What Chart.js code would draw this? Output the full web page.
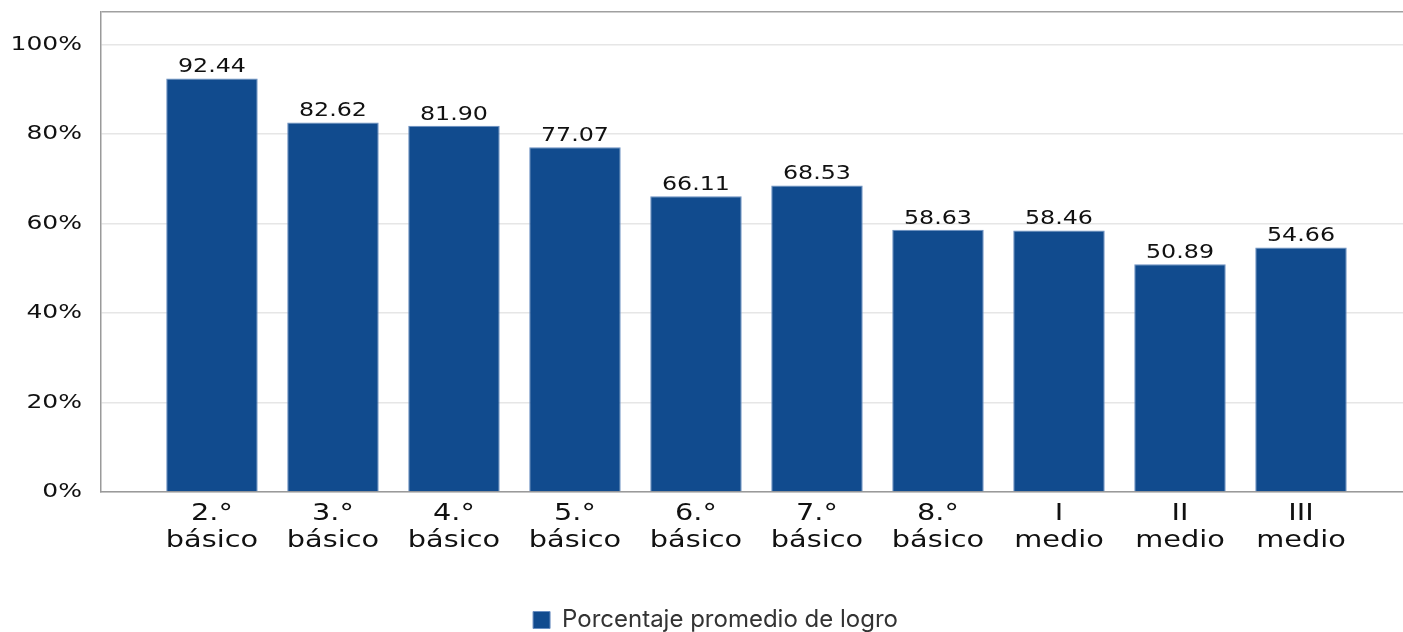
<!DOCTYPE html>
<html>
<head>
<meta charset="utf-8">
<script src="https://cdn.jsdelivr.net/npm/chart.js@4.4.0/dist/chart.umd.min.js"></script>
<style>
  html, body { margin: 0; padding: 0; background: #fff; overflow: hidden; }
  #wrap { width: 1403px; height: 632px; overflow: hidden; }
</style>
</head>
<body>
<div id="wrap"><canvas id="logroChart" width="1403" height="642"></canvas></div>
<script>
// data
const grades = [
  ['2.°', 'básico'], ['3.°', 'básico'], ['4.°', 'básico'], ['5.°', 'básico'],
  ['6.°', 'básico'], ['7.°', 'básico'], ['8.°', 'básico'],
  ['I', 'medio'], ['II', 'medio'], ['III', 'medio']
];
const logro = [92.44, 82.62, 81.90, 77.07, 66.11, 68.53, 58.63, 58.46, 50.89, 54.66];
const yTicks = [0, 20, 40, 60, 80, 100];
const yTop = 107.3;
const seriesName = 'Porcentaje promedio de logro';

const canvas = document.getElementById('logroChart');
const ctx = canvas.getContext('2d');

// the reference uses a wide face for the chart texts: stretch DejaVu text horizontally
const baseFill = ctx.fillText;
ctx.fillText = function (text, x, y, maxWidth) {
  if (this.font.indexOf('DejaVu') < 0) return baseFill.call(this, text, x, y, maxWidth);
  this.save();
  this.translate(x, y);
  this.scale(1.25, 1);
  baseFill.call(this, text, 0, 0);
  this.restore();
};

// value on top of each bar
const valueLabels = {
  id: 'valueLabels',
  afterDatasetsDraw(chart) {
    const c = chart.ctx;
    const meta = chart.getDatasetMeta(0);
    c.save();
    c.font = '19px "DejaVu Sans"';
    c.fillStyle = '#111';
    c.textAlign = 'center';
    c.textBaseline = 'alphabetic';
    meta.data.forEach((bar, i) => {
      c.fillText(logro[i].toFixed(2), bar.x, bar.y - 6);
    });
    c.restore();
  }
};

// legend in the reference sits a bit right of the canvas centre
const legendNudge = {
  id: 'legendNudge',
  afterLayout(chart) {
    chart.legend.left += 14;
    chart.legend.right += 14;
  }
};

const chart = new Chart(ctx, {
  type: 'bar',
  data: {
    datasets: [{
      label: seriesName,
      data: logro.map((v, i) => ({ x: i, y: v })),
      backgroundColor: '#114b8e',
      borderColor: '#6a8fc2',
      borderWidth: 1,
      categoryPercentage: 1,
      barPercentage: 0.756
    }]
  },
  options: {
    responsive: false,
    animation: false,
    layout: { padding: { top: 12, right: 0, left: 0, bottom: 0 } },
    plugins: {
      tooltip: { enabled: false },
      legend: {
        position: 'bottom',
        labels: {
          font: { family: 'Inter', size: 24 },
          color: '#333',
          boxWidth: 17,
          boxHeight: 17,
          padding: 10
        }
      }
    },
    scales: {
      x: {
        type: 'linear',
        offset: false,
        min: -0.917,
        max: 9.843,
        afterBuildTicks(axis) {
          axis.ticks = grades.map((g, i) => ({ value: i }));
        },
        afterFit(axis) {
          axis.height = 106;
          axis.paddingLeft = 0;
          axis.paddingRight = 0;
        },
        grid: { display: false, drawTicks: false },
        border: { display: true, color: '#9a9a9a', width: 1.5 },
        ticks: {
          z: 1,
          autoSkip: false,
          maxRotation: 0,
          padding: 8,
          color: '#111',
          font: { family: 'DejaVu Sans', size: 23, lineHeight: 1.2 },
          callback: (v) => grades[v]
        }
      },
      y: {
        min: 0,
        max: yTop,
        afterBuildTicks(axis) {
          axis.ticks = yTicks.concat([yTop]).map(v => ({ value: v }));
        },
        afterFit(axis) {
          axis.width = 101;
          axis.paddingTop = 0;
          axis.paddingBottom = 0;
        },
        grid: {
          drawTicks: false,
          color: (c) => (c.tick && c.tick.value > 100 ? '#a0a0a0' : '#e6e6e6'),
          lineWidth: 1.5
        },
        border: { display: true, color: '#9a9a9a', width: 1.5 },
        ticks: {
          z: 1,
          padding: 19,
          color: '#111',
          font: { family: 'DejaVu Sans', size: 20 },
          callback: (v) => (v > 100 ? '' : v + '%')
        }
      }
    }
  },
  plugins: [valueLabels, legendNudge]
});
</script>
</body>
</html>
